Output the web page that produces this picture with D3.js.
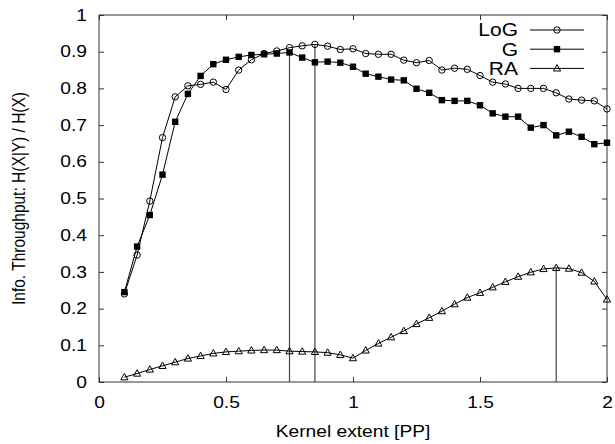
<!DOCTYPE html>
<html>
<head>
<meta charset="utf-8">
<script src="https://cdn.jsdelivr.net/npm/d3@7"></script>
<style>
  body { margin: 0; background: #fff; }
  text { font-family: "Liberation Sans", Arial, sans-serif; fill: #000; }
</style>
</head>
<body>
<div id="chart"></div>
<script>
// kernel extent [PP]
const extents = [0.1, 0.15, 0.2, 0.25, 0.3, 0.35, 0.4, 0.45, 0.5, 0.55, 0.6, 0.65, 0.7, 0.75,
  0.8, 0.85, 0.9, 0.95, 1.0, 1.05, 1.1, 1.15, 1.2, 1.25, 1.3, 1.35, 1.4, 1.45, 1.5, 1.55,
  1.6, 1.65, 1.7, 1.75, 1.8, 1.85, 1.9, 1.95, 2.0];
const logValues = [0.240, 0.346, 0.493, 0.666, 0.777, 0.807, 0.811, 0.817, 0.797, 0.850, 0.878,
  0.895, 0.902, 0.911, 0.916, 0.920, 0.915, 0.906, 0.908, 0.895, 0.893, 0.893, 0.877, 0.870,
  0.876, 0.850, 0.855, 0.852, 0.835, 0.817, 0.812, 0.800, 0.800, 0.800, 0.788, 0.771, 0.768,
  0.766, 0.744];
const gValues = [0.245, 0.369, 0.455, 0.565, 0.709, 0.785, 0.834, 0.866, 0.878, 0.886, 0.891,
  0.893, 0.895, 0.898, 0.884, 0.871, 0.873, 0.870, 0.859, 0.840, 0.832, 0.824, 0.822, 0.799,
  0.788, 0.768, 0.766, 0.766, 0.754, 0.732, 0.723, 0.723, 0.693, 0.700, 0.672, 0.682, 0.668,
  0.648, 0.652];
const raValues = [0.013, 0.023, 0.034, 0.044, 0.054, 0.064, 0.071, 0.078, 0.082, 0.084, 0.086,
  0.087, 0.087, 0.084, 0.083, 0.082, 0.080, 0.074, 0.065, 0.086, 0.105, 0.122, 0.139, 0.158,
  0.175, 0.193, 0.212, 0.230, 0.243, 0.258, 0.273, 0.287, 0.299, 0.308, 0.311, 0.309, 0.298,
  0.274, 0.225];
const seriesNames = ['LoG', 'G', 'RA'];
const xTicks = [0, 0.5, 1, 1.5, 2];
const yTicks = [0, 0.1, 0.2, 0.3, 0.4, 0.5, 0.6, 0.7, 0.8, 0.9, 1];

const width = 615, height = 444;
const margin = {top: 15, right: 8, bottom: 62, left: 99};
const stretch = 'scale(1.2,1)'; // text in the picture is a bit wider than normal

const svg = d3.select('#chart').append('svg')
  .attr('width', width).attr('height', height);

const x = d3.scaleLinear().domain([0, 2]).range([margin.left, width - margin.right]);
const y = d3.scaleLinear().domain([0, 1]).range([height - margin.bottom, margin.top]);

// axes, ticks pointing inwards on all four sides
const tickLen = 5;
const gx = svg.append('g').attr('transform', `translate(0,${y(0)})`)
  .call(d3.axisBottom(x).tickValues(xTicks).tickFormat(d3.format('')).tickSizeInner(-tickLen).tickSizeOuter(0).tickPadding(15));
const gy = svg.append('g').attr('transform', `translate(${x(0)},0)`)
  .call(d3.axisLeft(y).tickValues(yTicks).tickFormat(d3.format('')).tickSizeInner(-tickLen).tickSizeOuter(0).tickPadding(10));
svg.append('g').attr('transform', `translate(0,${y(1)})`)
  .call(d3.axisTop(x).tickValues(xTicks).tickFormat('').tickSizeInner(-tickLen).tickSizeOuter(0));
svg.append('g').attr('transform', `translate(${x(2)},0)`)
  .call(d3.axisRight(y).tickValues(yTicks).tickFormat('').tickSizeInner(-tickLen).tickSizeOuter(0));

svg.selectAll('.domain').remove();
svg.selectAll('.tick line').attr('stroke', '#333');
[gx, gy].forEach(g => g.selectAll('text')
  .style('font-family', '"Liberation Sans", Arial, sans-serif')
  .attr('font-size', 16)
  .attr('transform', stretch));

// frame
svg.append('rect')
  .attr('x', x(0)).attr('y', y(1))
  .attr('width', x(2) - x(0)).attr('height', y(0) - y(1))
  .attr('fill', 'none').attr('stroke', '#333').attr('stroke-width', 1);

// axis titles
svg.append('text')
  .attr('transform', `translate(${(x(0) + x(2)) / 2},437) ${stretch}`)
  .attr('text-anchor', 'middle').attr('font-size', 16)
  .text('Kernel extent [PP]');
svg.append('text')
  .attr('transform', `translate(24.5,${(y(0) + y(1)) / 2}) rotate(-90) scale(1,1.2)`)
  .attr('text-anchor', 'middle').attr('font-size', 15.5)
  .text('Info. Throughput: H(X|Y) / H(X)');

const series = [
  {name: seriesNames[0], values: logValues, marker: 'circle'},
  {name: seriesNames[1], values: gValues, marker: 'square'},
  {name: seriesNames[2], values: raValues, marker: 'triangle'}
];

// vertical lines at the maximum of each series
series.forEach(s => {
  const i = d3.maxIndex(s.values);
  svg.append('line')
    .attr('x1', x(extents[i])).attr('x2', x(extents[i]))
    .attr('y1', y(s.values[i])).attr('y2', y(0))
    .attr('stroke', '#444').attr('stroke-width', 1.2);
});

function drawMarker(g, kind, cx, cy) {
  if (kind === 'circle') {
    g.append('circle').attr('cx', cx).attr('cy', cy).attr('r', 3.2)
      .attr('fill', 'none').attr('stroke', '#000').attr('stroke-width', 1);
  } else if (kind === 'square') {
    g.append('rect').attr('x', cx - 3.2).attr('y', cy - 3.2)
      .attr('width', 6.4).attr('height', 6.4).attr('fill', '#000');
  } else {
    g.append('path')
      .attr('d', `M${cx},${cy - 3.8}L${cx + 3.6},${cy + 2.6}L${cx - 3.6},${cy + 2.6}Z`)
      .attr('fill', 'none').attr('stroke', '#000').attr('stroke-width', 1);
  }
}

const line = d3.line().x((d, i) => x(extents[i])).y(d => y(d));

series.forEach(s => {
  const g = svg.append('g');
  g.append('path').datum(s.values).attr('d', line)
    .attr('fill', 'none').attr('stroke', '#000').attr('stroke-width', 1);
  s.values.forEach((v, i) => drawMarker(g, s.marker, x(extents[i]), y(v)));
});

// legend
const legend = svg.append('g');
series.forEach((s, k) => {
  const ly = 30 + k * 19.2;
  legend.append('text')
    .attr('transform', `translate(518,${ly}) ${stretch}`)
    .attr('text-anchor', 'end').attr('dy', '0.36em').attr('font-size', 17.5)
    .text(s.name);
  legend.append('line').attr('x1', 530).attr('x2', 584).attr('y1', ly).attr('y2', ly)
    .attr('stroke', '#000').attr('stroke-width', 1);
  drawMarker(legend, s.marker, 557, ly);
});
</script>
</body>
</html>
